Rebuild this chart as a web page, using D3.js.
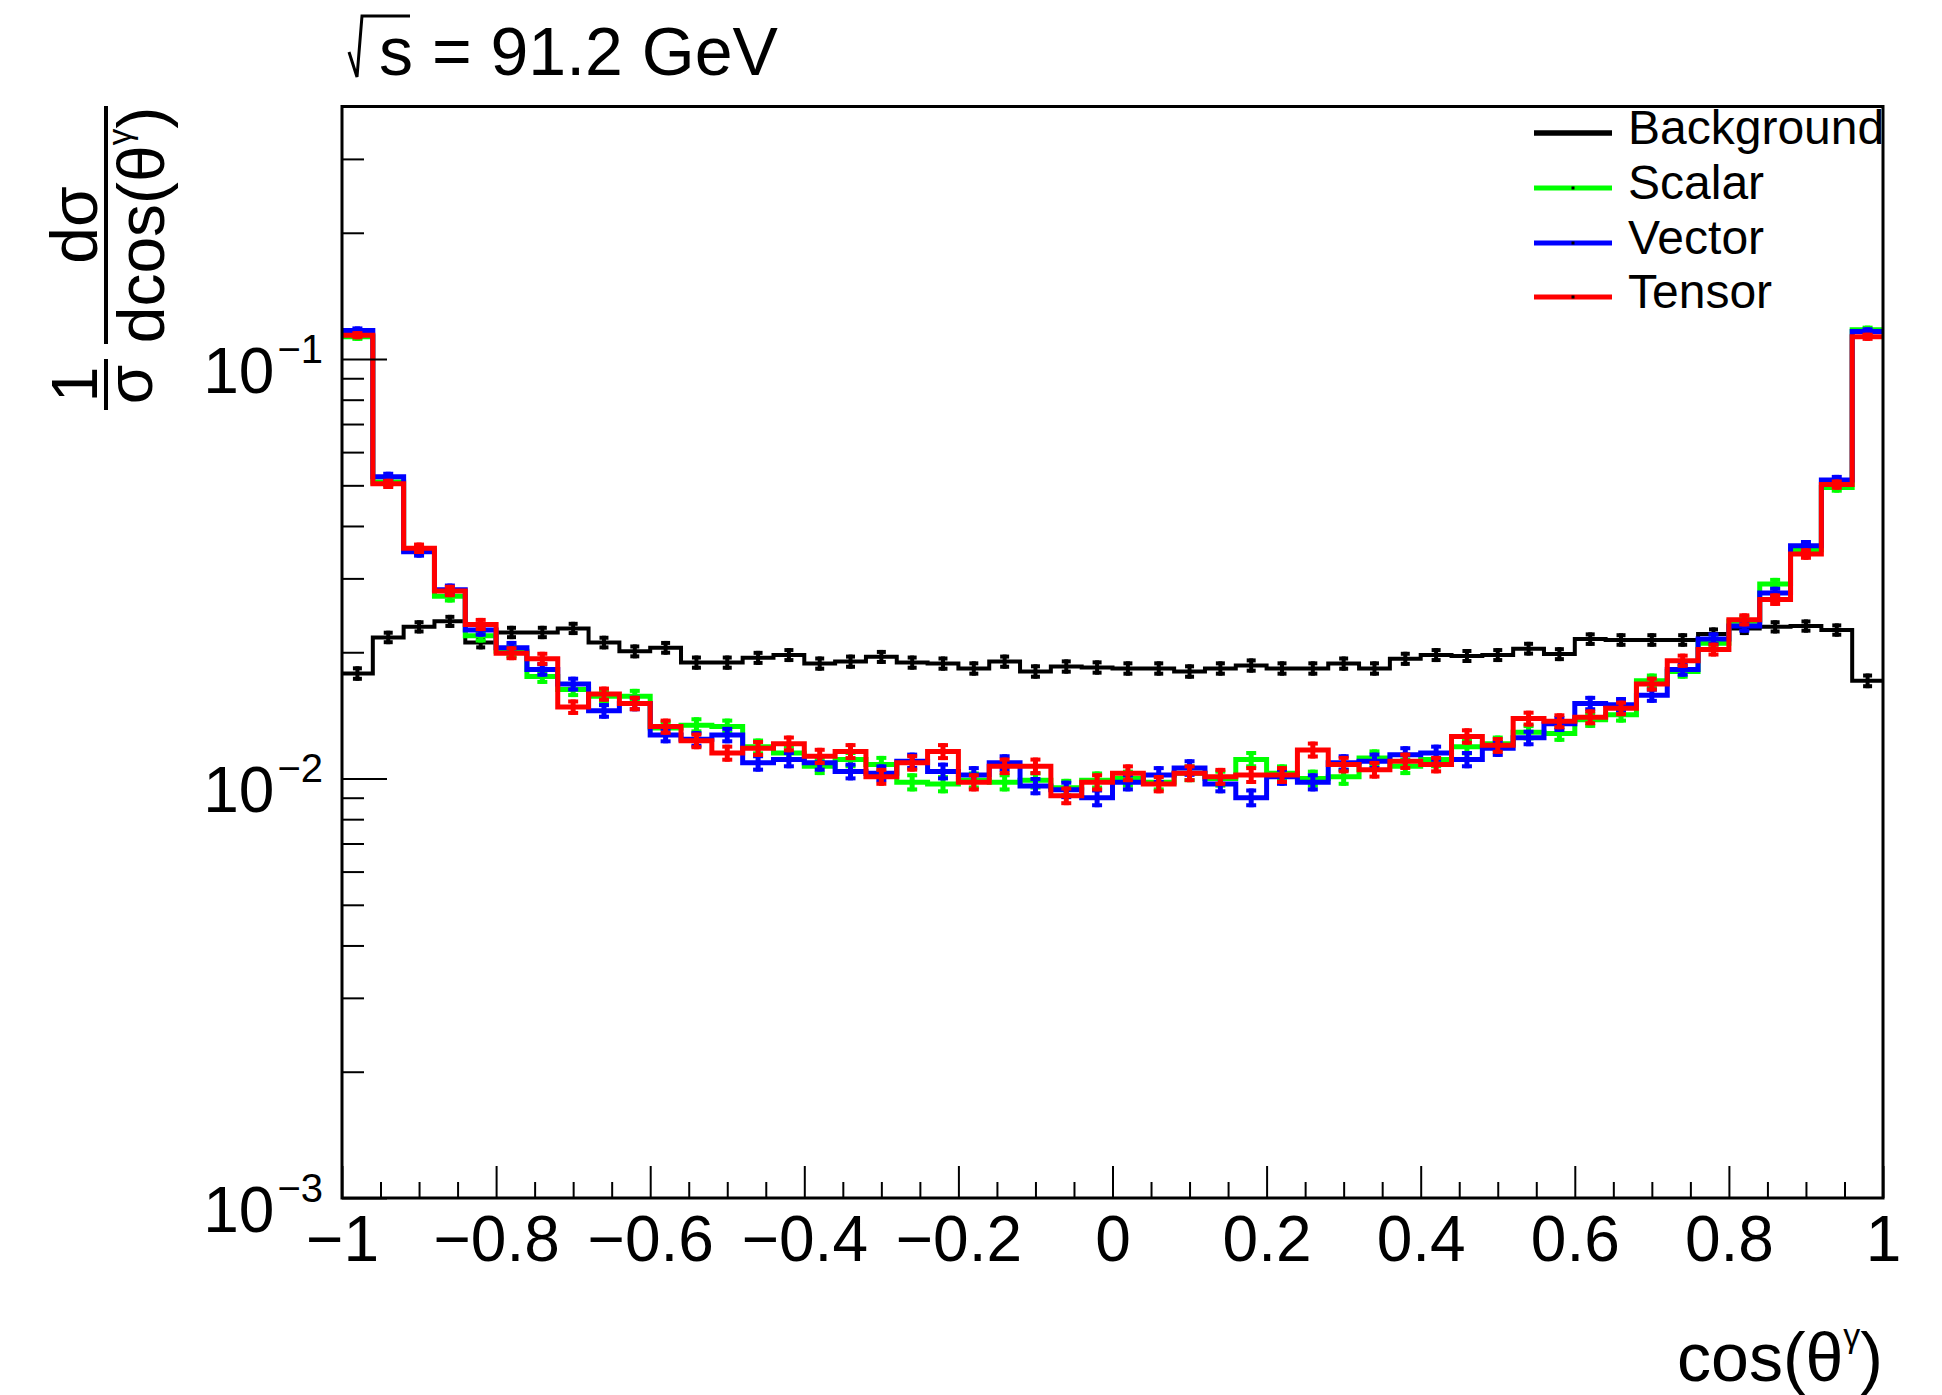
<!DOCTYPE html>
<html><head><meta charset="utf-8">
<script src="https://cdn.jsdelivr.net/npm/d3@7"></script>
<style>body{margin:0;background:#fff}svg{display:block}</style>
</head><body>
<svg id="c" width="1942" height="1395"></svg>
<script>
// ---------------- data ----------------
const binCenters = [-0.98,-0.94,-0.90,-0.86,-0.82,-0.78,-0.74,-0.70,-0.66,-0.62,
  -0.58,-0.54,-0.50,-0.46,-0.42,-0.38,-0.34,-0.30,-0.26,-0.22,
  -0.18,-0.14,-0.10,-0.06,-0.02,0.02,0.06,0.10,0.14,0.18,
  0.22,0.26,0.30,0.34,0.38,0.42,0.46,0.50,0.54,0.58,
  0.62,0.66,0.70,0.74,0.78,0.82,0.86,0.90,0.94,0.98];
const binWidth = 0.04;

const background = [0.0178,0.0217,0.0230,0.0237,0.0211,0.0223,0.0223,0.0228,0.0211,0.0201,
  0.0205,0.0189,0.0189,0.0194,0.0197,0.0188,0.0190,0.0195,0.0189,0.0188,
  0.0183,0.0190,0.0180,0.0185,0.0184,0.0183,0.0183,0.0180,0.0183,0.0186,
  0.0183,0.0183,0.0188,0.0183,0.0193,0.0197,0.0196,0.0197,0.0204,0.0198,
  0.0215,0.0214,0.0214,0.0214,0.0221,0.0228,0.0230,0.0231,0.0226,0.0171];
const scalar = [0.113,0.0509,0.0350,0.0272,0.0219,0.0201,0.0175,0.0163,0.0157,0.0157,
  0.0132,0.0134,0.0133,0.0119,0.0115,0.0107,0.0111,0.0108,0.0098,0.0097,
  0.0099,0.0098,0.0099,0.0095,0.0099,0.0100,0.0098,0.0103,0.0100,0.0111,
  0.0103,0.0100,0.0101,0.0112,0.0107,0.0111,0.0119,0.0121,0.0129,0.0128,
  0.0138,0.0142,0.0171,0.0180,0.0210,0.0237,0.0291,0.0351,0.0494,0.1175];
const vector = [0.117,0.0524,0.0347,0.0282,0.0226,0.0205,0.0182,0.0168,0.0145,0.0151,
  0.0127,0.0124,0.0127,0.0109,0.0111,0.0109,0.0104,0.0103,0.0110,0.0104,
  0.0102,0.0109,0.0096,0.0094,0.0090,0.0098,0.0102,0.0106,0.0097,0.0090,
  0.0101,0.0098,0.0109,0.0110,0.0114,0.0115,0.0111,0.0118,0.0125,0.0135,
  0.0151,0.0150,0.0158,0.0182,0.0215,0.0231,0.0277,0.0359,0.0515,0.1164];
const tensor = [0.114,0.0504,0.0354,0.0280,0.0233,0.0199,0.0193,0.0148,0.0159,0.0151,
  0.0133,0.0123,0.0115,0.0118,0.0121,0.0113,0.0116,0.0101,0.0109,0.0116,
  0.0098,0.0107,0.0107,0.0091,0.0098,0.0103,0.0097,0.0103,0.0101,0.0102,
  0.0102,0.0117,0.0108,0.0105,0.0110,0.0108,0.0126,0.0120,0.0139,0.0137,
  0.0140,0.0147,0.0168,0.0191,0.0203,0.0239,0.0267,0.0343,0.0502,0.1130];
const nEvents = 1.7e6;   // statistics used for the sqrt(N) error bars

const seriesNames = ["Background","Scalar","Vector","Tensor"];
const seriesColors = ["#000000","#00ff00","#0000ff","#ff0000"];
const seriesValues = [background, scalar, vector, tensor];

const xMajor = [-1,-0.8,-0.6,-0.4,-0.2,0,0.2,0.4,0.6,0.8,1];
const xTickLabels = ["\u22121","\u22120.8","\u22120.6","\u22120.4","\u22120.2","0","0.2","0.4","0.6","0.8","1"];
const yMajor = [1e-3,1e-2,1e-1];
const yTickExp = ["\u22123","\u22122","\u22121"];
const yMinor = [2e-3,3e-3,4e-3,5e-3,6e-3,7e-3,8e-3,9e-3,2e-2,3e-2,4e-2,5e-2,6e-2,7e-2,8e-2,9e-2,0.2,0.3];

// ---------------- layout ----------------
const frame = {l:342, r:1883, t:106.5, b:1198};
const FONT = "'Liberation Sans', Arial, Helvetica, sans-serif";
const svg = d3.select("#c");
const x = d3.scaleLinear().domain([-1,1]).range([frame.l, frame.r]);
const y = d3.scaleLog().domain([1e-3,0.4]).range([frame.b, frame.t]);

svg.append("defs").append("clipPath").attr("id","clip").append("rect")
  .attr("x",frame.l).attr("y",frame.t).attr("width",frame.r-frame.l).attr("height",frame.b-frame.t);

const edges = binCenters.map(c => c - binWidth/2).concat([binCenters[binCenters.length-1] + binWidth/2]);
const stepLine = d3.line().x(d => x(d[0])).y(d => y(d[1])).curve(d3.curveStepAfter);
const lineWidths = [4, 5, 5, 5];

seriesValues.forEach((vals, si) => {
  const col = seriesColors[si], lw = lineWidths[si];
  const g = svg.append("g").attr("clip-path","url(#clip)");
  const pts = vals.map((v,i) => [edges[i], v]);
  pts.push([edges[edges.length-1], vals[vals.length-1]]);
  g.append("path").attr("d", stepLine(pts)).attr("fill","none")
    .attr("stroke", col).attr("stroke-width", lw).attr("stroke-linejoin","miter");
  const capW = si === 0 ? 9 : 10;
  vals.forEach((v,i) => {
    const e = 1/Math.sqrt(v*binWidth*nEvents);
    const cx = x(binCenters[i]);
    const yTop = y(v*(1+e)), yBot = y(v*(1-e));
    g.append("line").attr("x1",cx).attr("x2",cx).attr("y1",yTop-2).attr("y2",yBot+2)
      .attr("stroke",col).attr("stroke-width", lw);
    [yTop, yBot].forEach(yy => {
      g.append("line").attr("x1",cx-capW/2).attr("x2",cx+capW/2).attr("y1",yy).attr("y2",yy)
        .attr("stroke",col).attr("stroke-width", 4);
    });
  });
});

// ---------------- axes ----------------
const gx = svg.append("g").attr("transform",`translate(0,${frame.b})`);
gx.call(d3.axisBottom(x).tickValues(xMajor).tickSize(-32).tickPadding(18)
  .tickFormat((d,i) => xTickLabels[i]));
const gxm = svg.append("g").attr("transform",`translate(0,${frame.b})`);
const xMinor = d3.range(-20,21).map(k => k*0.05).filter(v => Math.abs(v*5 - Math.round(v*5)) > 1e-6);
gxm.call(d3.axisBottom(x).tickValues(xMinor).tickSize(-16).tickFormat(""));

const gy = svg.append("g").attr("transform",`translate(${frame.l},0)`);
gy.call(d3.axisLeft(y).tickValues(yMajor).tickSize(-45).tickFormat(() => ""));
const gym = svg.append("g").attr("transform",`translate(${frame.l},0)`);
gym.call(d3.axisLeft(y).tickValues(yMinor).tickSize(-22).tickFormat(() => ""));

[gx,gxm,gy,gym].forEach(g => {
  g.select(".domain").remove();
  g.selectAll(".tick line").attr("stroke","#000").attr("stroke-width",2);
});
gx.selectAll(".tick text").attr("font-size",64).attr("font-family",FONT).attr("fill","#000");
gxm.selectAll(".tick text").remove();
gym.selectAll(".tick text").remove();
gy.selectAll(".tick text").each(function(d,i){
  const t = d3.select(this);
  t.text(null).attr("x",-19).attr("y",33).attr("dy",null).attr("text-anchor","end")
    .attr("font-family",FONT).attr("fill","#000").attr("font-size",64);
  t.append("tspan").text("10");
  t.append("tspan").attr("font-size",40).attr("dy",-30).attr("dx",3).text(yTickExp[i]);
});

// frame
svg.append("rect").attr("x",frame.l).attr("y",frame.t).attr("width",frame.r-frame.l)
  .attr("height",frame.b-frame.t).attr("fill","none").attr("stroke","#000").attr("stroke-width",3);

// ---------------- titles ----------------
// sqrt(s) = 91.2 GeV
svg.append("path").attr("d","M349,52 L357,77 L362,16 L410,16").attr("fill","none")
  .attr("stroke","#000").attr("stroke-width",3).attr("stroke-linejoin","miter");
svg.append("text").attr("x",379).attr("y",75).attr("font-family",FONT).attr("font-size",68)
  .attr("fill","#000").text("s = 91.2 GeV");

// x axis title
const xt = svg.append("text").attr("x",frame.r).attr("y",1381).attr("text-anchor","end")
  .attr("font-family",FONT).attr("font-size",68).attr("fill","#000");
xt.append("tspan").text("cos(\u03b8");
xt.append("tspan").attr("font-size",34).attr("dy",-34).text("\u03b3");
xt.append("tspan").attr("dy",34).text(")");

// y axis title (rotated fraction)
const yt = svg.append("g").attr("transform","translate(106,410) rotate(-90)")
  .attr("font-family",FONT).attr("fill","#000");
yt.append("line").attr("x1",0).attr("x2",51).attr("y1",0).attr("y2",0).attr("stroke","#000").attr("stroke-width",4);
yt.append("text").attr("x",25.5).attr("y",-9).attr("text-anchor","middle").attr("font-size",64).text("1");
yt.append("text").attr("x",25.5).attr("y",46).attr("text-anchor","middle").attr("font-size",64).text("\u03c3");
yt.append("line").attr("x1",66).attr("x2",304).attr("y1",0).attr("y2",0).attr("stroke","#000").attr("stroke-width",4);
yt.append("text").attr("x",185).attr("y",-9).attr("text-anchor","middle").attr("font-size",66).text("d\u03c3");
const den = yt.append("text").attr("x",185).attr("y",58).attr("text-anchor","middle").attr("font-size",66);
den.append("tspan").text("dcos(\u03b8");
den.append("tspan").attr("font-size",33).attr("dy",-33).text("\u03b3");
den.append("tspan").attr("dy",33).text(")");

// ---------------- legend ----------------
const legY = [133, 188, 243, 297];
const legLW = [5.5, 5, 5, 5];
seriesNames.forEach((n,i) => {
  svg.append("line").attr("x1",1534).attr("x2",1612).attr("y1",legY[i]).attr("y2",legY[i])
    .attr("stroke",seriesColors[i]).attr("stroke-width",legLW[i]);
  if (i > 0) svg.append("rect").attr("x",1571.5).attr("y",legY[i]-1.5).attr("width",3).attr("height",3).attr("fill","#000");
  svg.append("text").attr("x",1628).attr("y",legY[i]+11).attr("font-family",FONT)
    .attr("font-size",48).attr("fill","#000").text(n);
});
</script>
</body></html>
